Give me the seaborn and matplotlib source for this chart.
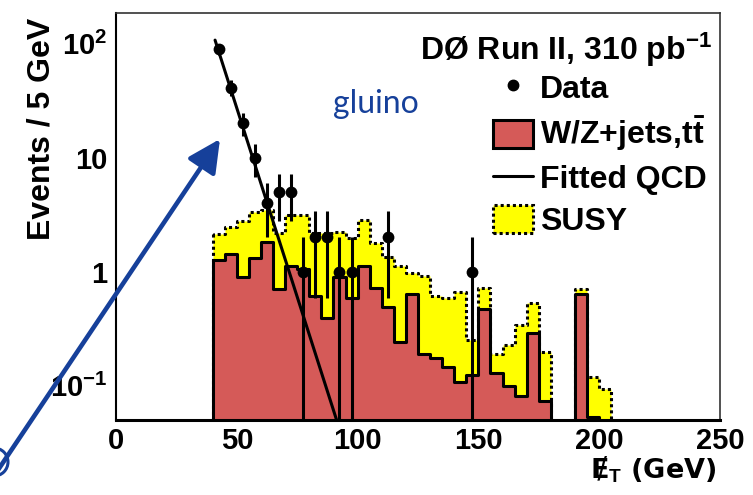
import numpy as np
import pandas as pd
import matplotlib
matplotlib.use("Agg")
import matplotlib.pyplot as plt
import seaborn as sns
from matplotlib.patches import Patch, Circle
from matplotlib.lines import Line2D
from matplotlib.ticker import FixedLocator, FixedFormatter, LogLocator, NullFormatter, MultipleLocator

# ---------------- data ----------------
bin_low = [40, 45, 50, 55, 60, 65, 70, 75, 80, 85, 90, 95, 100, 105, 110, 115,
           120, 125, 130, 135, 140, 145, 150, 155, 160, 165, 170, 175, 180, 185,
           190, 195, 200]
bin_width = 5
wz_jets = [1.27, 1.44, 0.90, 1.32, 1.80, 0.71, 1.13, 1.06, 0.61, 0.39, 0.90, 0.59,
           1.13, 0.72, 0.49, 0.24, 0.63, 0.19, 0.176, 0.146, 0.107, 0.125, 0.47,
           0.13, 0.10, 0.081, 0.29, 0.073, 0.0, 0.0, 0.63, 0.053, 0.0]
susy = [0.88, 1.02, 1.85, 1.98, 1.69, 1.47, 2.02, 2.09, 1.57, 1.79, 1.31, 1.38,
        1.68, 1.06, 0.86, 0.88, 0.35, 0.73, 0.434, 0.444, 0.553, 0.125, 0.25,
        0.06, 0.125, 0.256, 0.24, 0.124, 0.0, 0.0, 0.07, 0.067, 0.093]
data_x = [42.5, 47.5, 52.5, 57.5, 62.5, 67.5, 72.5, 77.5, 82.5, 87.5, 92.5, 97.5,
          112.5, 147.5]
data_n = [89, 41, 20, 10, 4, 5, 5, 1, 2, 2, 1, 1, 2, 1]
data_err = [9.4, 6.4, 4.5, 3.2, 2.0, 2.24, 2.24, 1.0, 1.41, 1.41, 1.0, 1.0, 1.41, 1.0]
qcd_x = [41.0, 92.0]
qcd_y = [107.0, 0.045]
x_ticks = [0, 50, 100, 150, 200, 250]
y_ticks = [0.1, 1, 10, 100]
y_ticklabels = [r"10$^{-1}$", "1", "10", r"10$^{2}$"]
legend_labels = ["Data", r"W/Z+jets,t$\bar{t}$", "Fitted QCD", "SUSY"]

# ---------------- style ----------------
sns.set_theme(style="white")
plt.rcParams["font.family"] = ["Liberation Sans", "DejaVu Sans"]
plt.rcParams["font.weight"] = "bold"
plt.rcParams["text.color"] = "black"
plt.rcParams["axes.labelcolor"] = "black"
plt.rcParams["xtick.color"] = "black"
plt.rcParams["ytick.color"] = "black"
plt.rcParams["mathtext.fontset"] = "custom"
plt.rcParams["mathtext.rm"] = "Liberation Sans:bold"
plt.rcParams["mathtext.bf"] = "Liberation Sans:bold"
plt.rcParams["mathtext.it"] = "Liberation Sans:bold"
plt.rcParams["mathtext.default"] = "bf"

RED = "#d55a58"
YEL = "#ffff00"
BLUE = "#16409a"

W, H = 753, 495
fig = plt.figure(figsize=(W / 100, H / 100), dpi=100)
ax = fig.add_axes([116 / W, 75 / H, 604 / W, 407 / H])
ax.set_yscale("log")

edges = bin_low + [bin_low[-1] + bin_width]
centers = [b + bin_width / 2 for b in bin_low]
total = [w + s for w, s in zip(wz_jets, susy)]
df = pd.DataFrame({"center": centers, "wz": wz_jets, "total": total})

sns.histplot(data=df, x="center", weights="total", bins=edges, element="step",
             fill=True, color=YEL, alpha=1, edgecolor="black", linewidth=2.2,
             linestyle=(0, (1, 1)), ax=ax)
sns.histplot(data=df, x="center", weights="wz", bins=edges, element="step",
             fill=True, color=RED, alpha=1, edgecolor="black", linewidth=2.2, ax=ax)

sns.lineplot(x=qcd_x, y=qcd_y, color="black", linewidth=2.2, ax=ax)

ax.errorbar(data_x, data_n, yerr=data_err, fmt="none", ecolor="black",
            elinewidth=2.2, capsize=0, zorder=5)
sns.scatterplot(x=data_x, y=data_n, color="black", s=72, edgecolor="black",
                linewidth=0, zorder=6, ax=ax)

ax.set_xlim(0, 250)
ax.set_ylim(0.05, 185)
ax.set_xlabel("")
ax.set_ylabel("")

ax.xaxis.set_major_locator(FixedLocator(x_ticks))
ax.xaxis.set_minor_locator(MultipleLocator(10))
ax.yaxis.set_major_locator(FixedLocator(y_ticks))
ax.yaxis.set_major_formatter(FixedFormatter(y_ticklabels))
ax.yaxis.set_minor_locator(LogLocator(base=10, subs=range(2, 10), numticks=20))
ax.yaxis.set_minor_formatter(NullFormatter())
ax.tick_params(axis="both", which="both", direction="in", top=False, right=False,
               color="black", labelcolor="black")
ax.tick_params(axis="x", which="major", length=8.6, width=1.2, labelsize=21, pad=5)
ax.tick_params(axis="x", which="minor", length=4.3, width=1.2)
ax.tick_params(axis="y", which="major", length=13, width=1.2, labelsize=21, pad=6)
ax.tick_params(axis="y", which="minor", length=6.5, width=1.2)
for lab in ax.get_xticklabels() + ax.get_yticklabels():
    lab.set_fontweight("bold")

for side in ["top", "right"]:
    ax.spines[side].set_linewidth(1.2)
    ax.spines[side].set_color("#333333")
ax.spines["left"].set_linewidth(1.5)
ax.spines["left"].set_color("black")
ax.spines["bottom"].set_linewidth(2.2)
ax.spines["bottom"].set_color("black")

# legend
handles = [
    Line2D([], [], marker="o", color="black", linestyle="none", markersize=7.5),
    Patch(facecolor=RED, edgecolor="black", linewidth=2.2),
    Line2D([], [], color="black", linewidth=2.2),
    Patch(facecolor=YEL, edgecolor="black", linewidth=2.2, linestyle=(0, (1, 1))),
]
ax.legend(handles, legend_labels, loc="upper left",
          bbox_to_anchor=(493 / W, 1 - 73 / H), bbox_transform=fig.transFigure,
          frameon=False, prop={"size": 23, "weight": "bold"},
          handlelength=1.25, handleheight=0.97, handletextpad=0.22,
          labelspacing=0.3, borderpad=0, borderaxespad=0)

fig.text(712 / W, 1 - 60 / H, r"DØ Run II, 310 pb$^{-1}$", ha="right",
         va="baseline", fontsize=23, fontweight="bold")

# axis titles
fig.text(42 / W, 1 - 18 / H, "Events / 5 GeV", rotation=90, ha="center", va="top",
         fontsize=23, fontweight="bold")
fig.text(717 / W, 1 - 470 / H, r"Ɇ$_{T}$ (GeV)", ha="right", va="center",
         fontsize=19.5, fontweight="bold", family="DejaVu Sans")

# annotation
fig.text(333 / W, 1 - 113 / H, "gluino", fontsize=23, color=BLUE, family="Lato",
         fontweight="normal", ha="left", va="baseline")
ax.annotate("", xy=(220, H - 139), xycoords="figure pixels",
            xytext=(-2, H - 470), textcoords="figure pixels",
            arrowprops=dict(arrowstyle="-|>,head_length=0.9,head_width=0.45",
                            mutation_scale=22, lw=3.3, color=BLUE,
                            shrinkA=0, shrinkB=0),
            annotation_clip=False)
fig.add_artist(Circle((-6, H - 462), 14, transform=None, fill=False,
                      edgecolor=BLUE, linewidth=2.2))

fig.savefig("out.png", dpi=100)
